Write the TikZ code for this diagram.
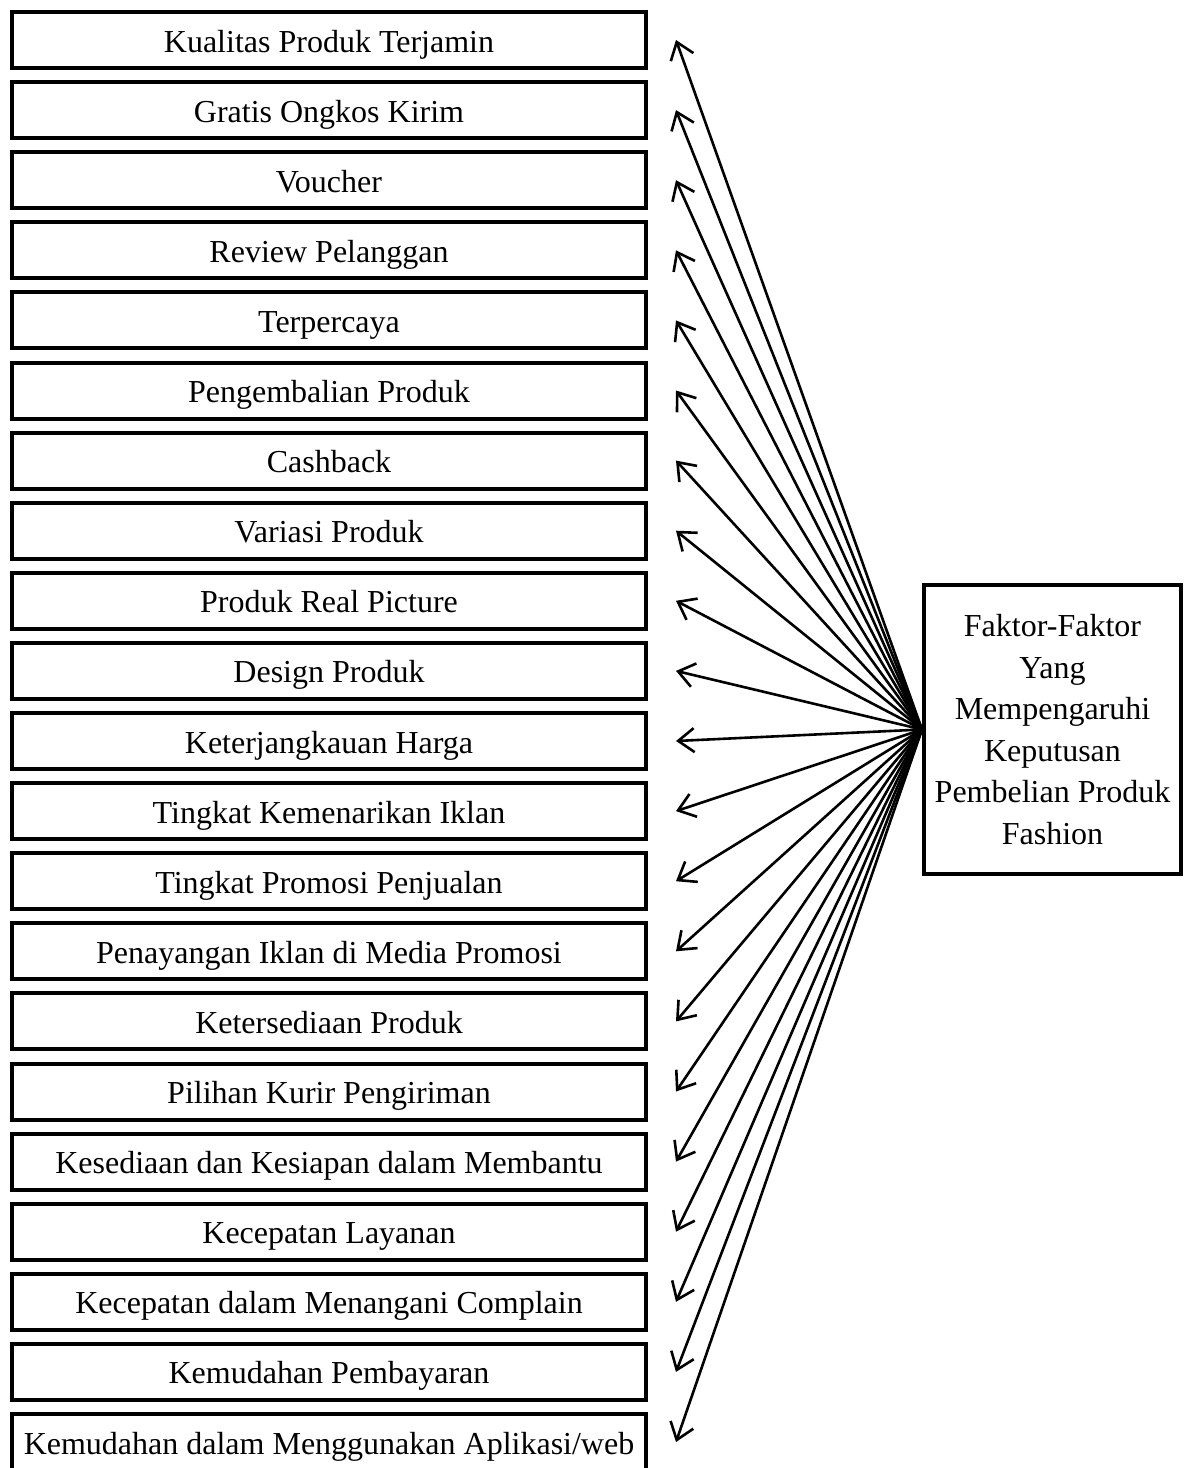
\documentclass[tikz,border=0pt]{standalone}
\usepackage{fontspec}
\setmainfont{Liberation Serif}
\usetikzlibrary{arrows.meta, positioning}

\begin{document}
\begin{tikzpicture}[x=0.5pt, y=0.5pt, node distance=35.05pt, on grid,
    >={Straight Barb[length=8pt, width=12pt]}, line width=1.3pt,
    font=\fontsize{16}{20.8}\selectfont,
    faktor/.style={draw, line width=2pt, minimum width=317pt, minimum height=28pt, inner sep=0pt, text height=15pt, text depth=3pt},
    hasil/.style={draw, line width=2pt, minimum width=128.5pt, minimum height=144.5pt, align=center, inner sep=0pt}]
  \useasboundingbox (0,0) rectangle (1193,-1468);
  \node[faktor] (f1) at (329,-40) {Kualitas Produk Terjamin};
  \node[faktor] (f2) [below=of f1] {Gratis Ongkos Kirim};
  \node[faktor] (f3) [below=of f2] {Voucher};
  \node[faktor] (f4) [below=of f3] {Review Pelanggan};
  \node[faktor] (f5) [below=of f4] {Terpercaya};
  \node[faktor] (f6) [below=of f5] {Pengembalian Produk};
  \node[faktor] (f7) [below=of f6] {Cashback};
  \node[faktor] (f8) [below=of f7] {Variasi Produk};
  \node[faktor] (f9) [below=of f8] {Produk Real Picture};
  \node[faktor] (f10) [below=of f9] {Design Produk};
  \node[faktor] (f11) [below=of f10] {Keterjangkauan Harga};
  \node[faktor] (f12) [below=of f11] {Tingkat Kemenarikan Iklan};
  \node[faktor] (f13) [below=of f12] {Tingkat Promosi Penjualan};
  \node[faktor] (f14) [below=of f13] {Penayangan Iklan di Media Promosi};
  \node[faktor] (f15) [below=of f14] {Ketersediaan Produk};
  \node[faktor] (f16) [below=of f15] {Pilihan Kurir Pengiriman};
  \node[faktor] (f17) [below=of f16] {Kesediaan dan Kesiapan dalam Membantu};
  \node[faktor] (f18) [below=of f17] {Kecepatan Layanan};
  \node[faktor] (f19) [below=of f18] {Kecepatan dalam Menangani Complain};
  \node[faktor] (f20) [below=of f19] {Kemudahan Pembayaran};
  \node[faktor] (f21) [below=of f20] {Kemudahan dalam Menggunakan Aplikasi/web};
  \node[hasil] (kp) at (1052.5,-729.5) {Faktor-Faktor\\Yang\\Mempengaruhi\\Keputusan\\Pembelian Produk\\Fashion};
  \path[->]
    (kp.west) edge ([xshift=14pt]f1.east)
              edge ([xshift=14pt]f2.east)
              edge ([xshift=14pt]f3.east)
              edge ([xshift=14pt]f4.east)
              edge ([xshift=14pt]f5.east)
              edge ([xshift=14pt]f6.east)
              edge ([xshift=14pt]f7.east)
              edge ([xshift=14pt]f8.east)
              edge ([xshift=14pt]f9.east)
              edge ([xshift=14pt]f10.east)
              edge ([xshift=14pt]f11.east)
              edge ([xshift=14pt]f12.east)
              edge ([xshift=14pt]f13.east)
              edge ([xshift=14pt]f14.east)
              edge ([xshift=14pt]f15.east)
              edge ([xshift=14pt]f16.east)
              edge ([xshift=14pt]f17.east)
              edge ([xshift=14pt]f18.east)
              edge ([xshift=14pt]f19.east)
              edge ([xshift=14pt]f20.east)
              edge ([xshift=14pt]f21.east);
\end{tikzpicture}
\end{document}
